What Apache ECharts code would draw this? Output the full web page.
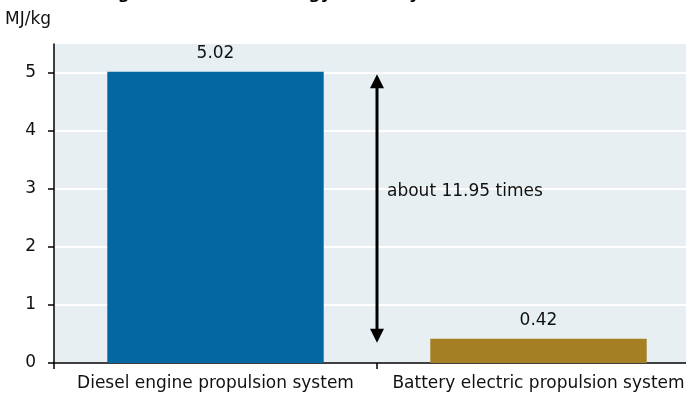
<!DOCTYPE html>
<html>
<head>
<meta charset="utf-8">
<script src="https://cdn.jsdelivr.net/npm/echarts@6/dist/echarts.min.js"></script>
<style>
html,body{margin:0;padding:0;background:#fff;}
#chart{width:686px;height:400px;}
</style>
</head>
<body>
<div id="chart"></div>
<script>
const categories = ['Diesel engine propulsion system', 'Battery electric propulsion system'];
const values = [5.02, 0.42];
const barColors = ['#0567a2', '#a47f24'];
const yTicks = [0, 1, 2, 3, 4, 5];
const yMax = 5.5;
const unitLabel = 'MJ/kg';
const titleText = 'Weight-normalized energy intensity';
const ratioLabel = 'about 11.95 times';
const arrowTop = 4.98;
const arrowBottom = 0.35;
const ratioLabelValue = 2.96;

const FONT = 'DejaVu Sans';
const TXT = '#111111';
const chart = echarts.init(document.getElementById('chart'), null, {renderer: 'canvas'});

const option = {
  animation: false,
  backgroundColor: '#ffffff',
  title: [
    {text: titleText, left: 83, top: -13.5, padding: 0,
     textStyle: {fontFamily: FONT, fontWeight: 'bold', fontSize: 16.6, color: '#000'}},
    {text: unitLabel, left: 5, top: 11, padding: 0,
     textStyle: {fontFamily: FONT, fontWeight: 'normal', fontSize: 17, color: TXT}}
  ],
  grid: {left: 54, right: -14, top: 44, bottom: 37, show: true, backgroundColor: '#e7eff2', borderWidth: 0,
         outerBoundsMode: 'none', containLabel: false},
  xAxis: {
    type: 'category',
    data: categories,
    axisLine: {show: true, lineStyle: {color: '#000', width: 1.5}},
    axisTick: {show: true, length: 6, lineStyle: {color: '#000', width: 1.5}},
    axisLabel: {fontFamily: FONT, fontSize: 17, color: TXT, margin: 12, interval: 0},
    splitLine: {show: false}
  },
  yAxis: {
    type: 'value',
    min: 0, max: yMax, interval: 1,
    axisLine: {show: true, lineStyle: {color: '#000', width: 1.5}},
    axisTick: {show: true, length: 6, lineStyle: {color: '#000', width: 1.5}, customValues: yTicks},
    axisLabel: {fontFamily: FONT, fontSize: 17, color: TXT, margin: 18, customValues: yTicks},
    splitLine: {show: true, lineStyle: {color: '#ffffff', width: 2}}
  },
  series: [
    {
      type: 'bar',
      barWidth: '67%',
      data: values.map((v, i) => ({value: v, itemStyle: {color: barColors[i]}})),
      label: {show: true, position: 'top', distance: 10, fontFamily: FONT, fontSize: 17, color: TXT,
              formatter: p => p.value.toFixed(2)}
    },
    {
      type: 'custom',
      clip: false,
      silent: true,
      encode: {x: 0, y: [1, 2]},
      data: [[0, arrowTop, arrowBottom, ratioLabelValue]],
      renderItem: function (params, api) {
        const a = api.coord([0, api.value(1)]);
        const b = api.coord([1, api.value(1)]);
        const x = (a[0] + b[0]) / 2;
        const yT = api.coord([0, api.value(1)])[1];
        const yB = api.coord([0, api.value(2)])[1];
        const yL = api.coord([0, api.value(3)])[1];
        const hw = 7, hh = 14;
        return {
          type: 'group',
          children: [
            {type: 'line', shape: {x1: x, y1: yT + hh - 1, x2: x, y2: yB - hh + 1},
             style: {stroke: '#000', lineWidth: 3}},
            {type: 'polygon', shape: {points: [[x, yT], [x - hw, yT + hh], [x + hw, yT + hh]]},
             style: {fill: '#000'}},
            {type: 'polygon', shape: {points: [[x, yB], [x - hw, yB - hh], [x + hw, yB - hh]]},
             style: {fill: '#000'}},
            {type: 'text', style: {text: ratioLabel, x: x + 10, y: yL, fill: TXT,
              fontFamily: FONT, fontSize: 17, align: 'left', verticalAlign: 'middle'}}
          ]
        };
      }
    }
  ]
};
chart.setOption(option);
</script>
</body>
</html>
